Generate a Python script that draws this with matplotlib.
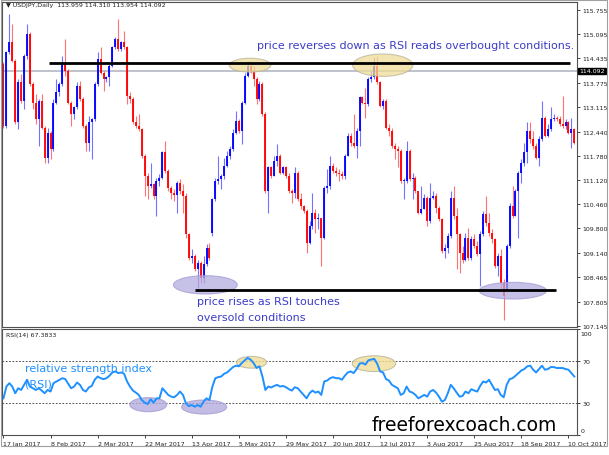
import numpy as np
import matplotlib
matplotlib.use("Agg")
import matplotlib.pyplot as plt
from matplotlib.patches import Ellipse, Rectangle
import matplotlib.transforms as mtransforms

#%% Data (USDJPY daily, 17 Jan 2017 - 12 Oct 2017)
closes = [
    112.59, 114.60, 114.87, 114.37, 112.69, 113.78, 113.28, 114.51, 115.10, 113.73,
    113.23, 112.78, 113.28, 112.55, 111.73, 112.41, 111.96, 113.23, 113.51, 113.73,
    114.28, 114.10, 113.23, 112.91, 113.10, 113.67, 113.32, 112.59, 112.14, 112.69,
    112.78, 113.73, 114.42, 114.05, 113.87, 113.92, 114.24, 114.74, 114.96, 114.69,
    114.87, 114.74, 113.41, 113.32, 112.69, 112.59, 112.50, 111.78, 111.23, 110.96,
    111.00, 110.68, 111.09, 111.18, 111.87, 111.37, 110.91, 110.77, 110.70, 111.05,
    110.82, 110.68, 109.64, 109.00, 109.04, 108.68, 108.86, 108.45, 108.82, 109.27,
    109.00, 110.59, 111.09, 111.14, 111.23, 111.50, 111.78, 111.96, 112.41, 112.73,
    112.46, 113.23, 113.96, 114.24, 114.10, 113.87, 113.32, 113.73, 112.91, 110.82,
    111.46, 111.23, 111.64, 111.78, 111.32, 111.46, 111.23, 110.82, 110.77, 111.32,
    110.59, 110.41, 110.27, 109.41, 109.86, 110.23, 110.05, 110.09, 109.54, 110.91,
    110.96, 111.50, 111.37, 111.32, 111.27, 111.23, 111.78, 112.32, 112.14, 112.05,
    112.46, 113.37, 113.23, 113.19, 113.87, 113.92, 114.24, 113.78, 113.14, 113.28,
    112.55, 112.46, 112.05, 111.96, 111.91, 111.09, 111.09, 111.91, 111.14, 111.18,
    110.82, 110.23, 110.32, 110.64, 110.00, 110.64, 110.68, 110.36, 110.05, 109.18,
    109.27, 109.59, 110.64, 110.14, 109.64, 109.13, 108.95, 109.54, 109.00, 109.50,
    109.32, 109.09, 109.64, 110.18, 109.95, 109.68, 109.50, 108.77, 109.04, 108.31,
    107.95, 109.32, 110.41, 110.14, 110.82, 111.32, 111.59, 111.87, 112.46, 112.23,
    112.05, 111.73, 112.23, 112.82, 112.32, 112.50, 112.78, 112.82, 112.78, 112.64,
    112.59, 112.69, 112.41, 112.50, 112.14,
]
opens = [
    114.28, 112.59, 114.60, 114.87, 114.37, 112.69, 113.78, 113.28, 114.51, 115.10,
    113.73, 113.23, 112.78, 113.28, 112.55, 111.73, 112.41, 111.96, 113.23, 113.51,
    113.73, 114.28, 114.10, 113.23, 112.91, 113.10, 113.67, 113.32, 112.59, 112.14,
    112.69, 112.78, 113.73, 114.42, 114.05, 113.87, 113.92, 114.24, 114.74, 114.96,
    114.69, 114.87, 114.74, 113.41, 113.32, 112.69, 112.59, 112.50, 111.78, 111.23,
    110.96, 111.00, 110.68, 111.09, 111.18, 111.87, 111.37, 110.91, 110.77, 110.70,
    111.05, 110.82, 110.68, 109.64, 109.00, 109.04, 108.68, 108.86, 108.45, 108.82,
    109.27, 109.68, 110.59, 111.09, 111.14, 111.23, 111.50, 111.78, 111.96, 112.41,
    112.73, 112.46, 113.23, 113.96, 114.24, 114.10, 113.87, 113.32, 113.73, 112.91,
    110.82, 111.46, 111.23, 111.64, 111.78, 111.32, 111.46, 111.23, 110.82, 110.77,
    111.32, 110.59, 110.41, 110.27, 109.41, 109.86, 110.23, 110.05, 110.09, 109.54,
    110.91, 110.96, 111.50, 111.37, 111.32, 111.27, 111.23, 111.78, 112.32, 112.14,
    112.05, 112.46, 113.37, 113.23, 113.19, 113.87, 113.92, 114.24, 113.78, 113.14,
    113.28, 112.55, 112.46, 112.05, 111.96, 111.91, 111.09, 111.09, 111.91, 111.14,
    111.18, 110.82, 110.23, 110.32, 110.64, 110.00, 110.64, 110.68, 110.36, 110.05,
    109.18, 109.27, 109.59, 110.64, 110.14, 109.64, 109.13, 108.95, 109.54, 109.00,
    109.50, 109.32, 109.09, 109.64, 110.18, 109.95, 109.68, 109.50, 108.77, 109.04,
    108.31, 108.13, 109.32, 110.41, 110.14, 110.82, 111.32, 111.59, 111.87, 112.46,
    112.23, 112.05, 111.73, 112.23, 112.82, 112.32, 112.50, 112.78, 112.82, 112.78,
    112.64, 112.59, 112.69, 112.41, 112.50,
]
highs = [
    114.33, 114.64, 115.65, 115.37, 114.42, 113.87, 114.01, 114.55, 115.37, 115.15,
    113.78, 113.46, 113.32, 113.46, 112.59, 112.55, 112.46, 113.32, 113.87, 113.78,
    114.51, 114.96, 114.14, 113.28, 113.14, 113.78, 113.83, 113.37, 112.64, 112.87,
    112.82, 113.78, 114.60, 114.74, 114.10, 113.96, 114.28, 114.78, 115.01, 115.51,
    114.92, 115.19, 114.78, 113.51, 113.37, 112.87, 112.91, 112.55, 111.82, 111.32,
    111.59, 111.05, 111.18, 111.27, 111.91, 112.19, 111.41, 110.96, 110.86, 111.09,
    111.14, 111.00, 110.77, 109.68, 109.23, 109.09, 108.95, 108.91, 109.04, 109.36,
    109.41, 110.64, 111.18, 111.78, 111.27, 111.73, 111.91, 112.05, 112.50, 113.01,
    112.78, 113.28, 114.05, 114.37, 114.33, 114.24, 113.92, 113.83, 113.78, 112.96,
    111.50, 111.50, 111.78, 112.09, 111.82, 111.50, 111.50, 111.32, 110.86, 111.46,
    111.37, 110.77, 110.45, 110.32, 110.00, 110.77, 110.32, 110.23, 110.05, 110.96,
    111.41, 111.78, 111.59, 111.46, 111.41, 111.37, 111.82, 112.41, 112.41, 112.91,
    112.55, 113.41, 113.41, 113.64, 113.92, 114.10, 114.46, 114.51, 113.83, 113.32,
    113.32, 112.64, 112.55, 112.14, 112.05, 111.96, 111.18, 112.19, 111.96, 111.32,
    111.23, 110.73, 110.96, 110.73, 110.68, 111.05, 110.82, 110.77, 110.41, 110.09,
    109.36, 109.68, 110.82, 110.96, 110.36, 109.68, 109.32, 109.68, 109.82, 109.59,
    109.64, 109.45, 109.73, 110.27, 110.68, 110.23, 109.77, 109.54, 109.13, 109.23,
    108.41, 109.36, 110.50, 110.96, 110.86, 111.37, 111.69, 112.14, 112.69, 112.69,
    112.46, 112.14, 112.32, 113.28, 112.87, 112.64, 113.10, 112.91, 112.87, 112.87,
    113.41, 112.78, 112.73, 112.82, 112.55,
]
lows = [
    112.55, 112.55, 114.55, 114.33, 112.64, 112.50, 113.23, 113.05, 114.42, 113.69,
    113.05, 112.64, 112.05, 112.50, 111.59, 111.59, 111.69, 111.91, 113.19, 113.41,
    113.69, 113.96, 113.19, 112.59, 112.78, 113.05, 113.28, 112.55, 111.91, 111.91,
    111.69, 112.73, 113.69, 114.01, 113.55, 113.78, 113.69, 114.19, 114.69, 114.64,
    114.64, 114.69, 113.19, 113.23, 112.64, 112.55, 112.46, 111.73, 110.68, 110.59,
    110.91, 110.59, 110.14, 110.96, 111.14, 111.32, 110.82, 110.59, 110.55, 110.23,
    110.73, 110.23, 109.54, 108.95, 108.86, 108.63, 108.18, 108.31, 108.31, 108.77,
    108.95, 109.59, 110.55, 111.00, 110.86, 111.14, 111.46, 111.69, 111.91, 112.37,
    112.41, 112.09, 113.19, 113.92, 114.05, 113.69, 113.19, 113.28, 112.87, 110.77,
    110.23, 111.18, 111.23, 111.50, 111.27, 111.27, 111.18, 110.77, 110.50, 110.64,
    110.55, 110.32, 110.23, 109.13, 109.36, 109.77, 109.68, 109.77, 108.77, 109.50,
    110.77, 110.86, 111.32, 111.23, 111.09, 111.14, 111.14, 111.78, 112.05, 112.00,
    111.73, 112.05, 113.19, 112.82, 113.14, 113.78, 113.87, 113.73, 113.10, 113.05,
    112.50, 112.32, 112.00, 111.69, 111.46, 111.05, 110.59, 111.05, 111.09, 110.59,
    110.77, 110.18, 110.18, 110.32, 109.86, 109.95, 110.59, 110.23, 110.00, 109.13,
    109.00, 109.13, 109.54, 110.05, 108.68, 108.59, 108.86, 108.91, 108.95, 108.95,
    109.27, 109.04, 108.22, 109.59, 109.86, 109.59, 109.41, 108.72, 108.50, 108.13,
    107.31, 108.13, 109.27, 110.09, 110.14, 109.54, 111.05, 111.50, 111.59, 112.14,
    111.96, 111.69, 111.50, 112.19, 112.28, 112.28, 112.46, 112.73, 112.73, 112.59,
    112.55, 112.50, 112.37, 112.00, 112.09,
]
rsi = [
    34.6, 45.7, 48.9, 45.7, 39.4, 44.1, 42.5, 47.3, 52.1, 45.7,
    44.1, 42.5, 44.1, 41.9, 39.4, 42.5, 41.0, 48.9, 50.5, 52.1,
    53.6, 52.7, 48.3, 44.1, 45.7, 49.5, 47.3, 42.5, 41.0, 44.8,
    46.3, 52.1, 55.2, 53.6, 52.7, 53.6, 55.9, 59.0, 60.0, 58.4,
    59.0, 57.8, 50.5, 45.7, 41.9, 40.0, 37.8, 33.0, 30.5, 29.2,
    33.7, 30.5, 34.6, 34.6, 44.1, 41.0, 37.8, 36.2, 35.6, 37.8,
    41.0, 37.8, 29.8, 27.3, 28.3, 26.7, 28.3, 26.7, 31.4, 34.6,
    33.0, 45.7, 53.6, 54.6, 55.2, 57.8, 59.0, 61.6, 64.1, 65.4,
    64.8, 67.9, 70.5, 72.7, 71.1, 67.9, 63.2, 64.8, 55.2, 42.5,
    45.7, 44.8, 46.3, 47.3, 45.7, 46.3, 45.1, 43.2, 41.9, 45.1,
    44.1, 41.0, 37.8, 34.6, 39.4, 41.9, 40.0, 41.0, 37.8, 50.5,
    51.4, 53.6, 54.6, 53.6, 53.6, 52.1, 55.9, 59.0, 60.0, 58.4,
    62.2, 67.3, 67.9, 66.4, 70.5, 71.1, 71.8, 67.3, 60.0, 59.0,
    52.7, 51.4, 47.3, 45.7, 44.1, 37.8, 39.4, 45.7, 41.0, 40.0,
    37.8, 34.6, 36.2, 37.8, 36.2, 41.0, 42.5, 40.0, 36.2, 31.4,
    33.0, 39.4, 47.3, 44.1, 40.0, 36.2, 36.8, 41.0, 39.4, 43.2,
    41.9, 41.0, 46.3, 50.5, 49.5, 52.1, 47.3, 42.5, 43.2, 37.8,
    35.6, 47.3, 52.7, 53.6, 55.9, 58.4, 60.9, 62.2, 64.8, 65.4,
    61.6, 59.0, 62.2, 65.4, 61.6, 62.2, 64.1, 64.1, 63.2, 63.2,
    63.2, 62.2, 61.6, 58.4, 55.2,
]

date_labels = ["17 Jan 2017", "8 Feb 2017", "2 Mar 2017", "22 Mar 2017",
               "13 Apr 2017", "5 May 2017", "29 May 2017", "20 Jun 2017",
               "12 Jul 2017", "3 Aug 2017", "25 Aug 2017", "18 Sep 2017",
               "10 Oct 2017"]
price_ticks = [115.755, 115.095, 114.435, 113.775, 113.115, 112.440, 111.780,
               111.120, 110.460, 109.800, 109.140, 108.465, 107.805, 107.145]
rsi_ticks = [100, 70, 30, 0]
last_price = 114.092
resistance = 114.32   # drawn from bar 15.5 to 192.5
support = 108.13      # drawn from bar 65 to 187.6

#%% Figure
W, H = 609, 456
fig = plt.figure(figsize=(W / 100, H / 100), dpi=100)
ax = fig.add_axes([2 / W, 1 - 328 / H, 575 / W, 325 / H])
ax2 = fig.add_axes([2 / W, 1 - 436 / H, 575 / W, 106 / H], sharex=ax)

idx = np.arange(len(closes))
o = np.array(opens)
c = np.array(closes)
hi = np.array(highs)
lo = np.array(lows)
col = np.where(c >= o, '#0000ff', '#ff0000')

# candles
ax.vlines(idx, lo, hi, colors=col, linewidth=0.8, alpha=0.55, zorder=2)
body = np.maximum(np.abs(c - o), 0.025)
ax.bar(idx, body, bottom=np.minimum(o, c), width=0.68, color=col,
       linewidth=0, alpha=0.92, zorder=2)

ax.axhline(last_price, color='#b4b8c2', lw=1.2, zorder=1)

# annotation ellipses
yel_face, yel_edge = '#f0dd98', '#b8b49a'
pur_face, pur_edge = '#b4acdf', '#a39cd2'
for (x0, y0, w, h, fc, ec) in [(83.8, 114.25, 14.1, 0.38, yel_face, yel_edge),
                               (128.9, 114.25, 20.4, 0.61, yel_face, yel_edge),
                               (68.6, 108.26, 21.7, 0.50, pur_face, pur_edge),
                               (173.1, 108.10, 22.9, 0.455, pur_face, pur_edge)]:
    ax.add_patch(Ellipse((x0, y0), w, h, facecolor=fc, edgecolor=ec,
                         lw=0.8, alpha=0.75, zorder=3))

ax.hlines(resistance, 15.5, 192.5, color='black', lw=2, zorder=4)
ax.hlines(support, 65, 187.6, color='black', lw=2, zorder=4)

ax.set_xlim(-0.5, 194.9)
ax.set_ylim(107.110, 115.973)
ax.yaxis.tick_right()
ax.set_yticks(price_ticks)
ax.set_yticklabels([f"{p:.3f}" for p in price_ticks])
ax.tick_params(axis='y', labelsize=4.5, length=2.5, width=0.6, pad=1.5,
               colors='#202020')
ax.tick_params(axis='x', bottom=False, labelbottom=False)

# current price box on the scale
trans = mtransforms.blended_transform_factory(ax.transAxes, ax.transData)
ax.text(1.004, last_price, "114.092", transform=trans, fontsize=4.5,
        color='white', va='center', ha='left', zorder=6, clip_on=False,
        bbox=dict(boxstyle='square,pad=0.15', facecolor='black', edgecolor='black'))

# RSI window
ax2.plot(idx, rsi, color='#1e90ff', lw=1.4, zorder=3)
for lvl in (70, 30):
    ax2.axhline(lvl, color='#303030', lw=0.6, ls=(0, (2, 2)), zorder=1)
for (x0, y0, w, h, fc, ec) in [(49.2, 28.6, 12.5, 13.3, pur_face, pur_edge),
                               (68.2, 26.4, 15.3, 13.3, pur_face, pur_edge),
                               (84.3, 68.6, 10.2, 11.1, yel_face, yel_edge),
                               (125.9, 67.3, 14.7, 14.9, yel_face, yel_edge)]:
    ax2.add_patch(Ellipse((x0, y0), w, h, facecolor=fc, edgecolor=ec,
                          lw=0.8, alpha=0.8, zorder=2))

ax2.set_ylim(0, 100)
ax2.yaxis.tick_right()
ax2.set_yticks(rsi_ticks)
ax2.set_yticklabels(["", "70", "30", ""])
ax2.tick_params(axis='y', labelsize=4.5, length=2.5, width=0.6, pad=1.5,
                colors='#202020')
# MT4 keeps the end labels inside the window
ax2.text(1.006, 0.955, "100", transform=ax2.transAxes, fontsize=4.5,
         color='#202020', va='center', ha='left', clip_on=False)
ax2.text(1.006, 0.04, "0", transform=ax2.transAxes, fontsize=4.5,
         color='#202020', va='center', ha='left', clip_on=False)
ax2.set_xticks(np.arange(0, len(closes), 16))
ax2.set_xticklabels(date_labels)
ax2.tick_params(axis='x', labelsize=4.5, length=2.5, width=0.6, pad=1.5,
                colors='#202020')
for lab in ax2.get_xticklabels():
    lab.set_horizontalalignment('left')

for a in (ax, ax2):
    for s in a.spines.values():
        s.set_color('#505050')
        s.set_linewidth(0.8)

# texts
def px(x, y):
    return x / W, 1 - y / H

fig.text(*px(6, 6), "\u25BC USDJPY,Daily  113.959 114.310 113.954 114.092",
         fontsize=4.5, va='center', ha='left', color='#202020')
fig.text(*px(6, 336), "RSI(14) 67.3833", fontsize=4.5, va='center',
         ha='left', color='#202020')
fig.text(*px(257, 46), "price reverses down as RSI reads overbought conditions.",
         fontsize=8, color='#3c3cc8', va='center', ha='left')
fig.text(*px(197, 302), "price rises as RSI touches", fontsize=8,
         color='#3c3cc8', va='center', ha='left')
fig.text(*px(197, 318), "oversold conditions", fontsize=8,
         color='#3c3cc8', va='center', ha='left')
fig.text(*px(25, 369), "relative strength index", fontsize=8,
         color='#1e90ff', va='center', ha='left')
fig.text(*px(25, 385), "(RSI)", fontsize=8, color='#1e90ff',
         va='center', ha='left')
fig.text(*px(372, 426), "freeforexcoach.com", fontsize=13.5,
         color='black', va='center', ha='left')

# outer window frame
fig.patches.append(Rectangle((0.5 / W, 1 - 447 / H), 606.5 / W, 446.5 / H,
                             transform=fig.transFigure, fill=False,
                             edgecolor='#a0a0a0', lw=0.8))

fig.savefig("out.png", dpi=100)
